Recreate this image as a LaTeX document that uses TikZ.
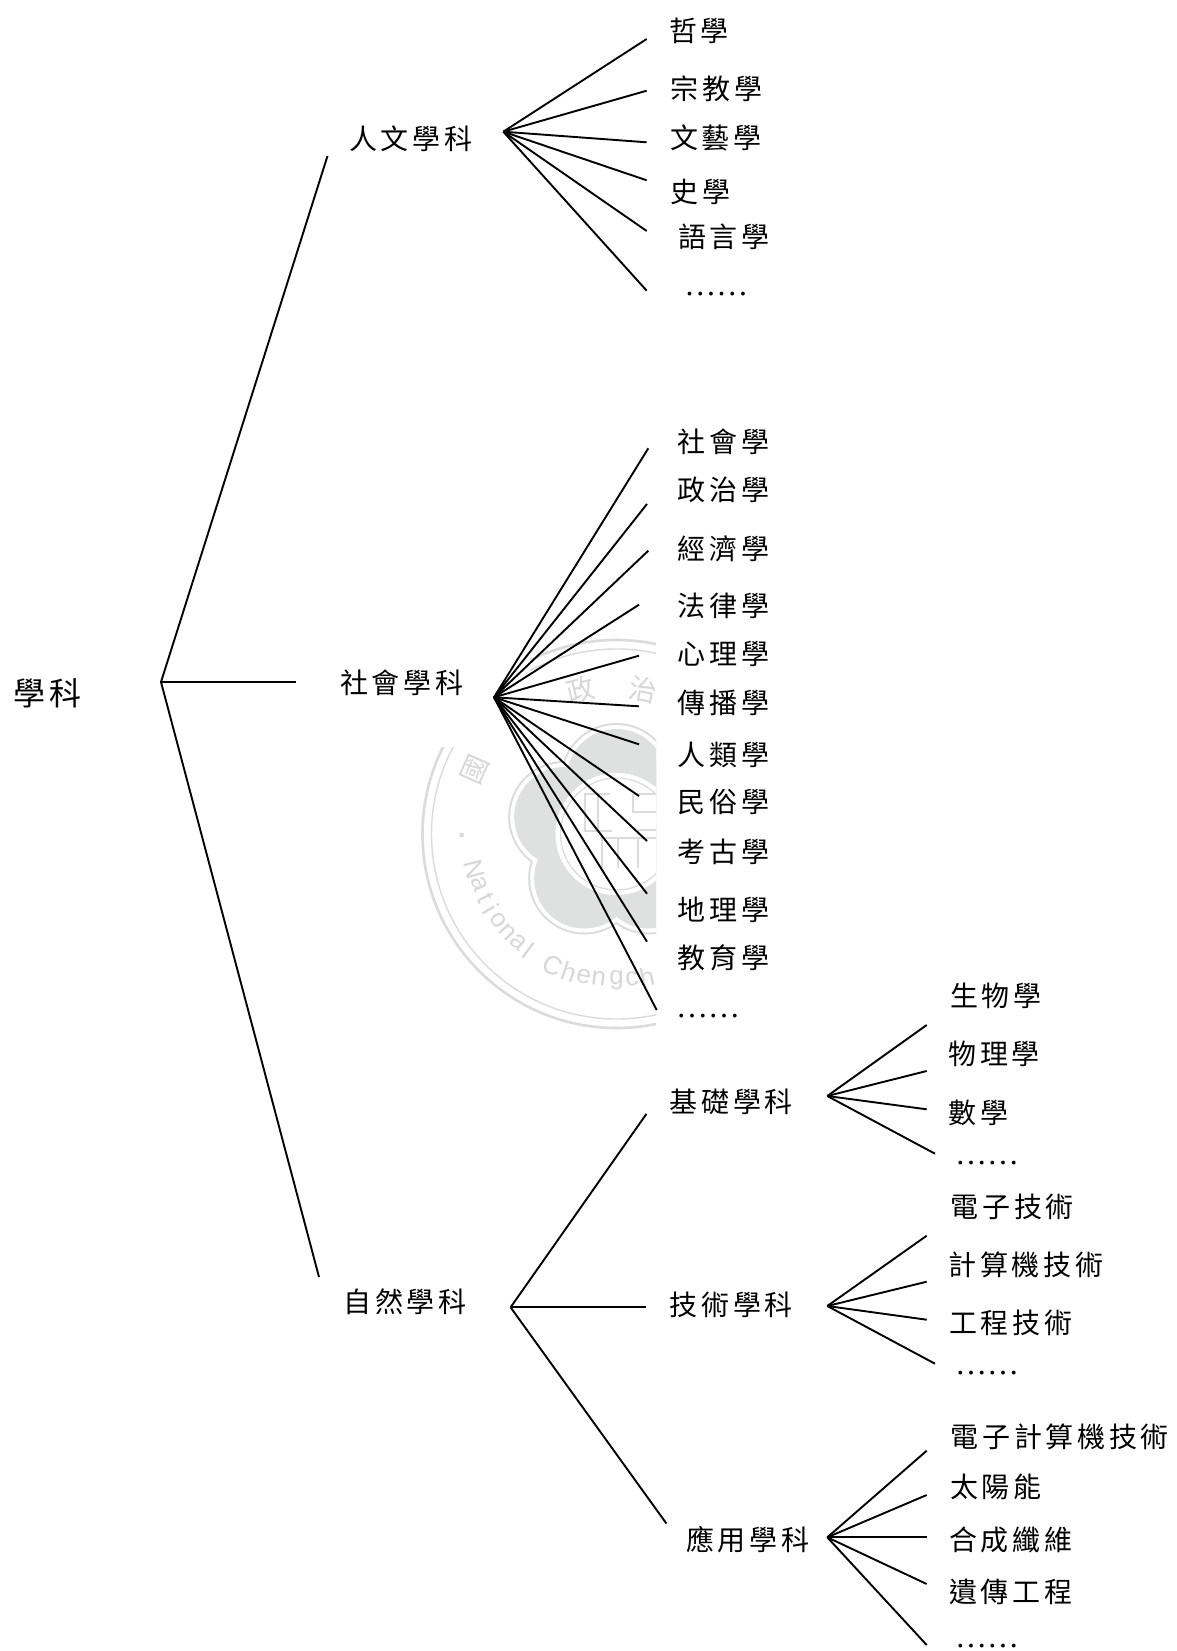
\documentclass[tikz,border=0pt]{standalone}
\usepackage{fontspec}
\usetikzlibrary{calc}
\setmainfont{Liberation Serif}
\newfontfamily\cjkfont[LetterSpace=13]{Noto Sans CJK TC}
\newfontfamily\wmfont{Noto Sans CJK TC}
\newfontfamily\wmlatin{Liberation Sans}
\newfontfamily\dotfont{Liberation Serif}
\definecolor{wmring}{HTML}{DADCDB}
\definecolor{wmfill}{HTML}{DFE1E0}
\definecolor{wmtext}{HTML}{D6D8D7}
\tikzset{
  conn/.style={line width=1.9pt,black,line cap=butt},
  lab/.style={anchor=west,inner sep=0pt,yshift=-1pt,font=\cjkfont\fontsize{28}{32}\selectfont},
  rootlab/.style={anchor=west,inner sep=0pt,font=\cjkfont\fontsize{32}{36}\selectfont},
  dotslab/.style={anchor=base west,inner sep=0pt,text depth=0pt,font=\dotfont\fontsize{32}{36}\selectfont},
  wmletter/.style={inner sep=0pt,text=wmtext,font=\wmlatin\fontsize{26}{30}\selectfont},
  wmhan/.style={inner sep=0pt,text=wmtext,font=\wmfont\fontsize{28}{30}\selectfont}
}
\begin{document}
\begin{tikzpicture}[x=1pt,y=-1pt]
\path[use as bounding box,fill=white] (0,0) rectangle (1176,1651);

% watermark
\begin{scope}
\clip (400,630) rectangle (656,1040);
\draw[wmring,line width=2.6pt] (616.5,834) circle (194);
\draw[wmring,line width=1.4pt] (616.5,834) circle (185);
\foreach \a/\r in {90/56,162/56,234/56,306/56,18/56}{
  \fill[wmring] ($(616.5,834)+(\a:55 and -55)$) circle (\r);
}
\foreach \a/\r in {90/54,162/54,234/54,306/54,18/54}{
  \fill[white] ($(616.5,834)+(\a:55 and -55)$) circle (\r);
}
\foreach \a/\r in {90/50,162/50,234/50,306/50,18/50}{
  \fill[wmfill] ($(616.5,834)+(\a:55 and -55)$) circle (\r);
}
\fill[white] (616.5,834) circle (61);
\draw[wmring,line width=1.2pt] (616.5,834) circle (56);
\draw[wmring,line width=2.4pt] (610,794) -- (585,794) -- (585,831) -- (612,831)
  (598,794) -- (598,831)
  (633,794) -- (656,794) (633,794) -- (633,812) -- (656,812) (638,830) -- (656,830)
  (600,838) -- (656,838)
  (602,838) -- (602,868) (618,838) -- (618,868) (638,838) -- (638,868);
\foreach \c/\a in {N/194,a/200,t/206,i/211,o/216,n/222,a/228,l/233,
  C/244,h/251,e/257,n/263,g/270,c/276,h/282}{
  \pgfmathsetmacro{\rot}{\a-270}
  \node[wmletter,rotate=\rot] at ($(616.5,834)+(\a:146 and -146)$) {\c};
}
\fill[wmring] (461.7,835) circle (2.5);
\node[wmhan,rotate=66] (wmguo) at (475,770) {國};
\node[wmhan,rotate=14] (wmzheng) at (581,690) {政};
\node[wmhan,rotate=-11] (wmzhi) at (643,690) {治};
\end{scope}
\fill[white] (400,630) rectangle (530,700);
\fill[white] (400,700) rectangle (490,747);

% level 0
\node[rootlab] (root) at (13.3,693) {學科};
\coordinate (j0) at (161,682);
\node[lab] (hum) at (349,138) {人文學科};
\node[lab] (soc) at (340,682) {社會學科};
\node[lab] (nat) at (343.3,1300.7) {自然學科};
\coordinate (e0a) at (327.5,156);
\coordinate (e0b) at (296,682);
\coordinate (e0c) at (319,1277);
\draw[conn] (j0) -- (e0a);
\draw[conn] (j0) -- (e0b);
\draw[conn] (j0) -- (e0c);

% humanities
\coordinate (jh) at (503.3,131.7);
\node[lab] (h1) at (669,30) {哲學};
\node[lab] (h2) at (670.7,87.5) {宗教學};
\node[lab] (h3) at (670,137) {文藝學};
\node[lab] (h4) at (670.7,191) {史學};
\node[lab] (h5) at (678,236) {語言學};
\node[dotslab] (h6) at (684.2,295) {……};
\coordinate (eh1) at (646.7,39);
\coordinate (eh2) at (646.7,90.7);
\coordinate (eh3) at (646.7,142.3);
\coordinate (eh4) at (646.7,180.3);
\coordinate (eh5) at (646.7,231);
\coordinate (eh6) at (646.7,290.7);
\foreach \i in {1,...,6}{\draw[conn] (jh) -- (eh\i);}

% social
\coordinate (js) at (494,697.3);
\node[lab] (s1) at (677.7,440.7) {社會學};
\node[lab] (s2) at (677.7,489.3) {政治學};
\node[lab] (s3) at (677.7,548) {經濟學};
\node[lab] (s4) at (677.7,604.7) {法律學};
\node[lab] (s5) at (677.7,652.5) {心理學};
\node[lab] (s6) at (677.7,702) {傳播學};
\node[lab] (s7) at (677.7,754) {人類學};
\node[lab] (s8) at (677.7,800.7) {民俗學};
\node[lab] (s9) at (677.7,850.8) {考古學};
\node[lab] (s10) at (677.7,909) {地理學};
\node[lab] (s11) at (677.7,957) {教育學};
\node[dotslab] (s12) at (675.8,1017) {……};
\coordinate (es1) at (648.3,448.3);
\coordinate (es2) at (647,504);
\coordinate (es3) at (648.3,550.7);
\coordinate (es4) at (639,604.7);
\coordinate (es5) at (639,655.7);
\coordinate (es6) at (639,706.3);
\coordinate (es7) at (639,744.3);
\coordinate (es8) at (639,796);
\coordinate (es9) at (647,841);
\coordinate (es10) at (647,893.7);
\coordinate (es11) at (647,941.7);
\coordinate (es12) at (656.7,1010);
\foreach \i in {1,...,12}{\draw[conn] (js) -- (es\i);}

% natural
\coordinate (jn) at (510.6,1307.3);
\node[lab] (n1) at (669.6,1101) {基礎學科};
\node[lab] (n2) at (669.6,1303.5) {技術學科};
\node[lab] (n3) at (686,1539) {應用學科};
\coordinate (en1) at (646.4,1113.9);
\coordinate (en2) at (646.4,1307.3);
\coordinate (en3) at (666.4,1523.5);
\foreach \i in {1,2,3}{\draw[conn] (jn) -- (en\i);}

% basic
\coordinate (jb) at (827.3,1096);
\node[lab] (b1) at (950,995) {生物學};
\node[lab] (b2) at (948.3,1053.3) {物理學};
\node[lab] (b3) at (948.3,1111.7) {數學};
\node[dotslab] (b4) at (954.8,1164.7) {……};
\coordinate (eb1) at (926.7,1025);
\coordinate (eb2) at (926.7,1071);
\coordinate (eb3) at (926.7,1109.3);
\coordinate (eb4) at (935,1153.7);
\foreach \i in {1,...,4}{\draw[conn] (jb) -- (eb\i);}

% technical
\coordinate (jt) at (827.3,1306);
\node[lab] (t1) at (950.7,1206) {電子技術};
\node[lab] (t2) at (948.3,1264) {計算機技術};
\node[lab] (t3) at (949,1322.3) {工程技術};
\node[dotslab] (t4) at (954.8,1374.7) {……};
\coordinate (et1) at (926.7,1235.7);
\coordinate (et2) at (926.7,1281.7);
\coordinate (et3) at (926.7,1319.7);
\coordinate (et4) at (935,1363.7);
\foreach \i in {1,...,4}{\draw[conn] (jt) -- (et\i);}

% applied
\coordinate (ja) at (827.3,1537.3);
\node[lab] (a1) at (950.7,1436) {電子計算機技術};
\node[lab] (a2) at (950,1486) {太陽能};
\node[lab] (a3) at (949,1539) {合成纖維};
\node[lab] (a4) at (949,1590.7) {遺傳工程};
\node[dotslab] (a5) at (954.8,1647) {……};
\coordinate (ea1) at (926.7,1450.7);
\coordinate (ea2) at (926.7,1495);
\coordinate (ea3) at (926.7,1537.3);
\coordinate (ea4) at (926.7,1584);
\coordinate (ea5) at (926.7,1645);
\foreach \i in {1,...,5}{\draw[conn] (ja) -- (ea\i);}
\end{tikzpicture}
\end{document}
